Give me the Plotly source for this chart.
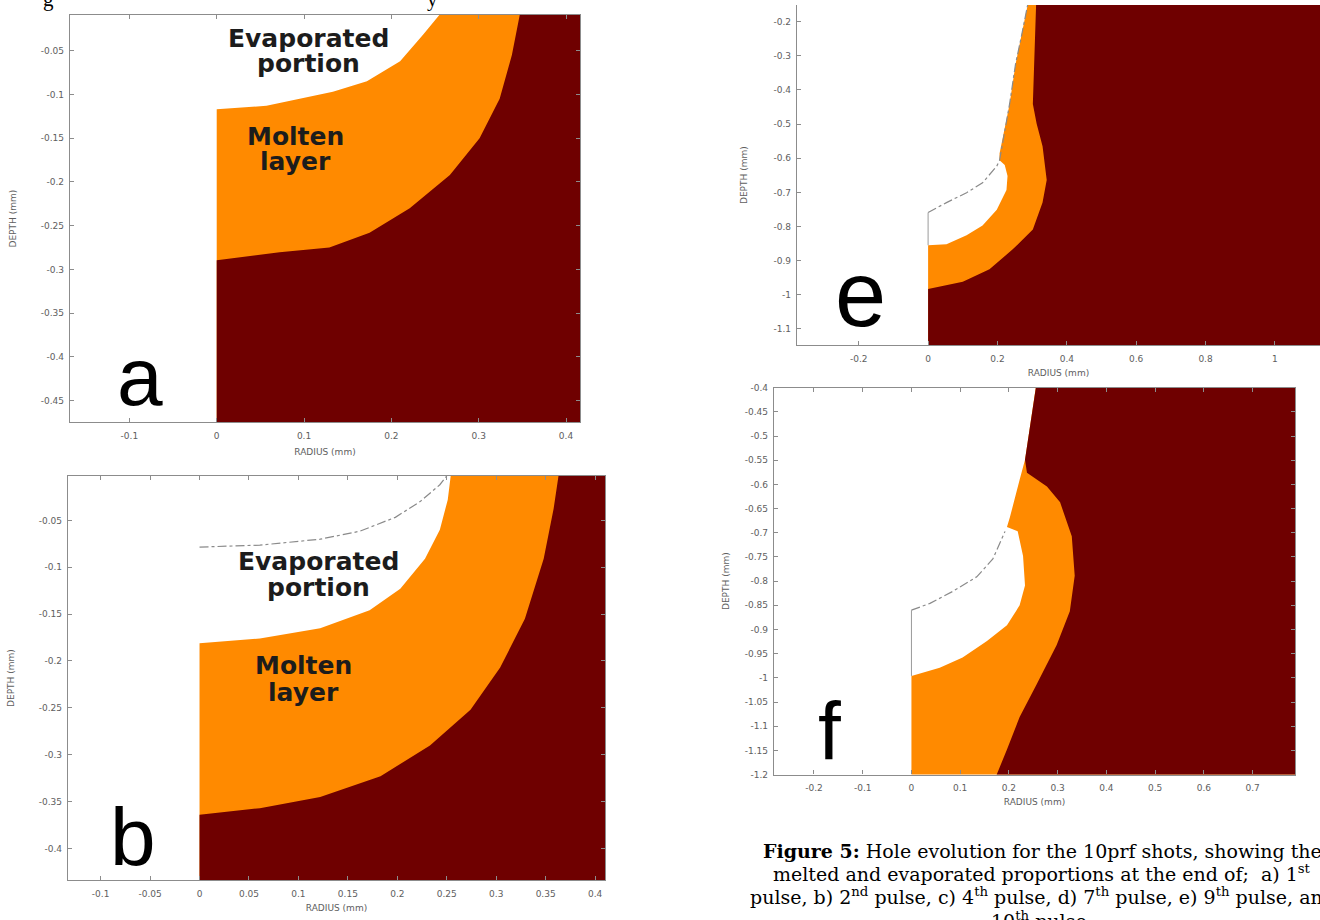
import plotly.graph_objects as go

W, H = 1320, 920

ORANGE = "#FF8A00"
DARK = "#6F0000"
AXIS = "#8c8c8c"
LABEL = "#5e5e5e"
TEXT = "#1c1c1c"

# ---------- (a) end of 1st pulse ----------
a_range_r = [-0.168, 0.416]
a_range_z = [-0.475, -0.009]
a_xticks = [-0.1, 0, 0.1, 0.2, 0.3, 0.4]
a_xtext = ["-0.1", "0", "0.1", "0.2", "0.3", "0.4"]
a_yticks = [-0.05, -0.1, -0.15, -0.2, -0.25, -0.3, -0.35, -0.4, -0.45]
a_ytext = ["-0.05", "-0.1", "-0.15", "-0.2", "-0.25", "-0.3", "-0.35", "-0.4", "-0.45"]
a_evap_r = [0.0, 0.057, 0.133, 0.172, 0.210, 0.236, 0.255]
a_evap_z = [-0.117, -0.113, -0.097, -0.085, -0.062, -0.032, -0.009]
a_solid_r = [0.0, 0.072, 0.129, 0.175, 0.221, 0.267, 0.301, 0.324, 0.338, 0.347]
a_solid_z = [-0.2896, -0.2805, -0.275, -0.258, -0.230, -0.192, -0.150, -0.105, -0.055, -0.009]

# ---------- (b) end of 2nd pulse ----------
b_range_r = [-0.133, 0.410]
b_range_z = [-0.434, -0.0025]
b_xticks = [-0.1, -0.05, 0, 0.05, 0.1, 0.15, 0.2, 0.25, 0.3, 0.35, 0.4]
b_xtext = ["-0.1", "-0.05", "0", "0.05", "0.1", "0.15", "0.2", "0.25", "0.3", "0.35", "0.4"]
b_yticks = [-0.05, -0.1, -0.15, -0.2, -0.25, -0.3, -0.35, -0.4]
b_ytext = ["-0.05", "-0.1", "-0.15", "-0.2", "-0.25", "-0.3", "-0.35", "-0.4"]
b_prev_r = [0.0, 0.061, 0.122, 0.162, 0.198, 0.223, 0.243, 0.250]
b_prev_z = [-0.0785, -0.0764, -0.0701, -0.0616, -0.0468, -0.030, -0.012, -0.0025]
b_evap_r = [0.0, 0.061, 0.122, 0.172, 0.203, 0.228, 0.243, 0.251, 0.254]
b_evap_z = [-0.181, -0.176, -0.165, -0.146, -0.123, -0.091, -0.060, -0.028, -0.0025]
b_solid_r = [0.0, 0.061, 0.122, 0.183, 0.233, 0.274, 0.304, 0.329, 0.348, 0.358, 0.363]
b_solid_z = [-0.364, -0.357, -0.345, -0.323, -0.290, -0.252, -0.207, -0.155, -0.091, -0.038, -0.0025]

# ---------- (e) end of 9th pulse ----------
e_range_r = [-0.378, 1.13]
e_range_z = [-1.148, -0.151]
e_xticks = [-0.2, 0, 0.2, 0.4, 0.6, 0.8, 1.0]
e_xtext = ["-0.2", "0", "0.2", "0.4", "0.6", "0.8", "1"]
e_yticks = [-0.2, -0.3, -0.4, -0.5, -0.6, -0.7, -0.8, -0.9, -1.0, -1.1]
e_ytext = ["-0.2", "-0.3", "-0.4", "-0.5", "-0.6", "-0.7", "-0.8", "-0.9", "-1", "-1.1"]
e_wall_z = [-0.759, -0.855]
e_prev_r = [0.0, 0.053, 0.111, 0.157, 0.198, 0.206, 0.235, 0.252, 0.270, 0.287]
e_prev_z = [-0.759, -0.730, -0.701, -0.672, -0.623, -0.606, -0.441, -0.325, -0.238, -0.151]
e_evap_r = [0.0, 0.053, 0.111, 0.157, 0.198, 0.226, 0.229, 0.221, 0.206, 0.206, 0.235, 0.252, 0.270, 0.287]
e_evap_z = [-0.855, -0.852, -0.826, -0.797, -0.751, -0.693, -0.652, -0.620, -0.606, -0.586, -0.441, -0.325, -0.238, -0.151]
e_solid_r = [0.0, 0.100, 0.177, 0.244, 0.302, 0.330, 0.342, 0.330, 0.313, 0.302, 0.307, 0.313]
e_solid_z = [-0.983, -0.962, -0.925, -0.867, -0.809, -0.730, -0.664, -0.565, -0.499, -0.441, -0.296, -0.151]

# ---------- (f) end of 10th pulse ----------
f_range_r = [-0.282, 0.787]
f_range_z = [-1.2, -0.4]
f_xticks = [-0.2, -0.1, 0, 0.1, 0.2, 0.3, 0.4, 0.5, 0.6, 0.7]
f_xtext = ["-0.2", "-0.1", "0", "0.1", "0.2", "0.3", "0.4", "0.5", "0.6", "0.7"]
f_yticks = [-0.4, -0.45, -0.5, -0.55, -0.6, -0.65, -0.7, -0.75, -0.8, -0.85, -0.9, -0.95,
            -1.0, -1.05, -1.1, -1.15, -1.2]
f_ytext = ["-0.4", "-0.45", "-0.5", "-0.55", "-0.6", "-0.65", "-0.7", "-0.75", "-0.8", "-0.85",
           "-0.9", "-0.95", "-1", "-1.05", "-1.1", "-1.15", "-1.2"]
f_wall_z = [-0.860, -0.996]
f_prev_r = [0.0, 0.038, 0.085, 0.134, 0.167, 0.192]
f_prev_z = [-0.860, -0.846, -0.821, -0.791, -0.754, -0.697]
f_evap_r = [0.0, 0.058, 0.105, 0.155, 0.196, 0.222, 0.233, 0.229, 0.218, 0.196, 0.202, 0.222, 0.233, 0.255, 0.259]
f_evap_z = [-0.996, -0.979, -0.958, -0.924, -0.891, -0.850, -0.809, -0.748, -0.697, -0.688, -0.668, -0.590, -0.549, -0.400, -0.375]
f_solid_r = [0.165, 0.175, 0.196, 0.222, 0.257, 0.298, 0.325, 0.335, 0.329, 0.305, 0.278, 0.237, 0.233, 0.255, 0.259]
f_solid_z = [-1.25, -1.200, -1.148, -1.081, -1.013, -0.932, -0.862, -0.789, -0.707, -0.637, -0.604, -0.576, -0.549, -0.400, -0.375]

caption_lines = [
    "<b>Figure 5:</b> Hole evolution for the 10prf shots, showing the",
    "melted and evaporated proportions at the end of;  a) 1<sup>st</sup>",
    "pulse, b) 2<sup>nd</sup> pulse, c) 4<sup>th</sup> pulse, d) 7<sup>th</sup> pulse, e) 9<sup>th</sup> pulse, and",
    "10<sup>th</sup> pulse.",
]


def px_x(p):
    return p / W


def px_y(p):
    return 1 - p / H


# pixel boxes of the four plot areas: left, right, top, bottom
panels = [
    dict(box=(70, 580, 10, 422), rr=a_range_r, rz=a_range_z, xt=a_xticks, xtt=a_xtext,
         yt=a_yticks, ytt=a_ytext, evap=(a_evap_r, a_evap_z), solid=(a_solid_r, a_solid_z),
         prev=None, wall=None, mirror="ticks", start_at_wall=True, ystand=22, xstand=8),
    dict(box=(68, 605, 476, 885), rr=b_range_r, rz=b_range_z, xt=b_xticks, xtt=b_xtext,
         yt=b_yticks, ytt=b_ytext, evap=(b_evap_r, b_evap_z), solid=(b_solid_r, b_solid_z),
         prev=(b_prev_r, b_prev_z), wall=None, mirror="ticks", start_at_wall=True, ystand=22, xstand=6),
    dict(box=(797, 1320, 0, 344), rr=e_range_r, rz=e_range_z, xt=e_xticks, xtt=e_xtext,
         yt=e_yticks, ytt=e_ytext, evap=(e_evap_r, e_evap_z), solid=(e_solid_r, e_solid_z),
         prev=(e_prev_r, e_prev_z), wall=e_wall_z, mirror=False, start_at_wall=True, ystand=24, xstand=6),
    dict(box=(774, 1295, 387, 778), rr=f_range_r, rz=f_range_z, xt=f_xticks, xtt=f_xtext,
         yt=f_yticks, ytt=f_ytext, evap=(f_evap_r, f_evap_z), solid=(f_solid_r, f_solid_z),
         prev=(f_prev_r, f_prev_z), wall=f_wall_z, mirror="ticks", start_at_wall=False, ystand=13, xstand=6),
]

fig = go.Figure()
tickfont = dict(family="DejaVu Sans", size=9, color=LABEL)
titlefont = dict(family="DejaVu Sans", size=9, color=LABEL)

for i, p in enumerate(panels, start=1):
    xa = "x" if i == 1 else f"x{i}"
    ya = "y" if i == 1 else f"y{i}"
    r_hi = p["rr"][1] + 0.05
    z_lo = p["rz"][0] - 0.05
    z_hi = p["rz"][1] + 0.05

    # molten + solid material: everything to the right of the hole surface
    er, ez = p["evap"]
    poly_r = [0.0] + list(er) + [er[-1], r_hi, r_hi, 0.0]
    poly_z = [z_lo] + list(ez) + [z_hi, z_hi, z_lo, z_lo]
    fig.add_trace(go.Scatter(x=poly_r, y=poly_z, mode="lines", fill="toself",
                             fillcolor=ORANGE, line=dict(width=0, color=ORANGE),
                             hoverinfo="skip", showlegend=False, xaxis=xa, yaxis=ya))

    # solid material: everything beyond the melt front
    sr, sz = p["solid"]
    if p["start_at_wall"]:
        poly_r = [0.0] + list(sr) + [sr[-1], r_hi, r_hi, 0.0]
        poly_z = [z_lo] + list(sz) + [z_hi, z_hi, z_lo, z_lo]
    else:
        poly_r = list(sr) + [sr[-1], r_hi, r_hi, sr[0]]
        poly_z = list(sz) + [z_hi, z_hi, z_lo, sz[0]]
    fig.add_trace(go.Scatter(x=poly_r, y=poly_z, mode="lines", fill="toself",
                             fillcolor=DARK, line=dict(width=0, color=DARK),
                             hoverinfo="skip", showlegend=False, xaxis=xa, yaxis=ya))

    # surface left by the previous pulse
    if p["prev"] is not None:
        fig.add_trace(go.Scatter(x=p["prev"][0], y=p["prev"][1], mode="lines",
                                 line=dict(color="#8a8a8a", width=1.2, dash="dashdot"),
                                 hoverinfo="skip", showlegend=False, xaxis=xa, yaxis=ya))
    if p["wall"] is not None:
        fig.add_trace(go.Scatter(x=[0.0, 0.0], y=p["wall"], mode="lines",
                                 line=dict(color="#9a9a9a", width=1),
                                 hoverinfo="skip", showlegend=False, xaxis=xa, yaxis=ya))

    x0, x1, y0, y1 = p["box"]
    xkey = "xaxis" if i == 1 else f"xaxis{i}"
    ykey = "yaxis" if i == 1 else f"yaxis{i}"
    fig.layout[xkey] = dict(
        domain=[px_x(x0), px_x(x1)], range=p["rr"], anchor=ya,
        tickmode="array", tickvals=p["xt"], ticktext=p["xtt"],
        ticks="inside", ticklen=4, tickcolor=AXIS, tickwidth=1,
        showline=True, linecolor=AXIS, linewidth=1.3, mirror=p["mirror"],
        showgrid=False, zeroline=False, tickfont=tickfont, ticklabelstandoff=5,
        title=dict(text="RADIUS (mm)", font=titlefont, standoff=p["xstand"]),
    )
    fig.layout[ykey] = dict(
        domain=[px_y(y1), px_y(y0)], range=p["rz"], anchor=xa,
        tickmode="array", tickvals=p["yt"], ticktext=p["ytt"],
        ticks="inside", ticklen=4, tickcolor=AXIS, tickwidth=1,
        showline=True, linecolor=AXIS, linewidth=1.3, mirror=p["mirror"],
        showgrid=False, zeroline=False, tickfont=tickfont, ticklabelstandoff=3,
        title=dict(text="DEPTH (mm)", font=titlefont, standoff=p["ystand"]),
    )

annotations = []


def label(text, xp, yp, size, family="DejaVu Sans", color=TEXT, xanchor="center"):
    annotations.append(dict(text=text, x=px_x(xp), y=px_y(yp), xref="paper", yref="paper",
                            showarrow=False, xanchor=xanchor, yanchor="middle",
                            font=dict(family=family, size=size, color=color)))


# region names
label("<b>Evaporated</b>", 308, 34, 25)
label("<b>portion</b>", 308, 59, 25)
label("<b>Molten</b>", 295, 133, 25)
label("<b>layer</b>", 295, 158, 25)
label("<b>Evaporated</b>", 318, 563, 25)
label("<b>portion</b>", 318, 589, 25)
label("<b>Molten</b>", 303, 668, 25)
label("<b>layer</b>", 303, 695, 25)

# panel letters
label("a", 140, 376, 82, family="Liberation Sans", color="#000000")
label("b", 133, 841, 82, family="Liberation Sans", color="#000000")
label("e", 861, 292, 92, family="Liberation Sans", color="#000000")
label("f", 829, 733, 82, family="Liberation Sans", color="#000000")

# caption
for line, yp in zip(caption_lines, [855, 878, 901, 925]):
    label(line, 1042, yp, 19, family="DejaVu Serif", color="#000000")

# tail of the text line running above the figure
label("g", 48, -6, 21, family="Liberation Serif", color="#000000")
label("y", 433, -6, 21, family="Liberation Serif", color="#000000")

fig.update_layout(
    width=W, height=H,
    margin=dict(l=0, r=0, t=0, b=0),
    paper_bgcolor="white", plot_bgcolor="white",
    annotations=annotations,
    showlegend=False,
)

fig.write_html("out.html")
